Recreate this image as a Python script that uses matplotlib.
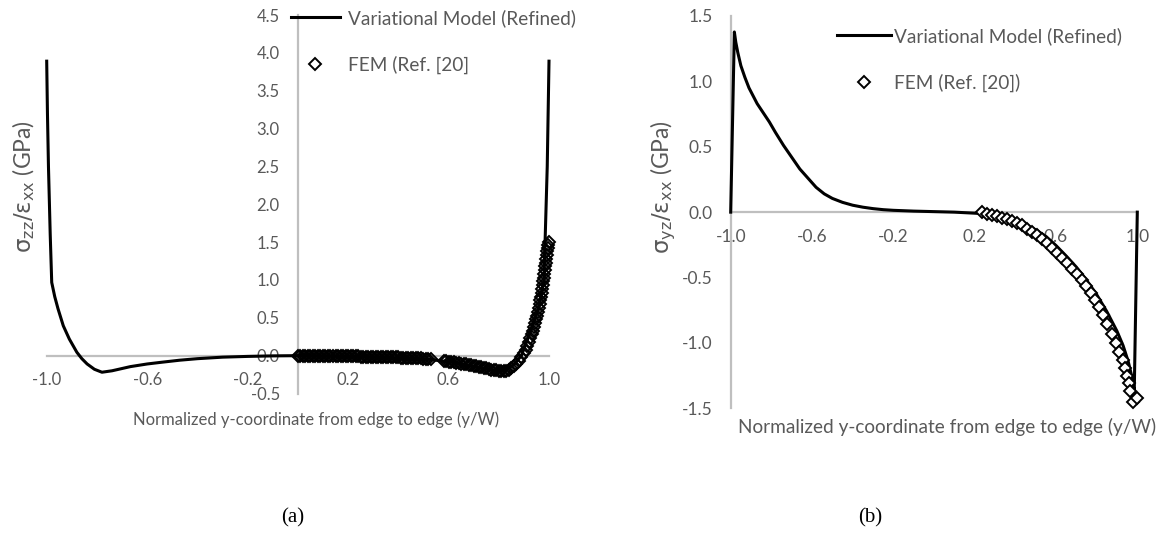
import matplotlib
matplotlib.use('Agg')
import matplotlib.pyplot as plt
import numpy as np

plt.rcParams['font.family'] = ['Lato', 'DejaVu Sans']
plt.rcParams['mathtext.fontset'] = 'dejavusans'

TXT = '#595959'
AXC = '#BFBFBF'

# ---------------- data, panel (a): sigma_zz / eps_xx ----------------
a_model_x = [-1.0, -0.997, -0.993, -0.986, -0.980, -0.968, -0.955, -0.934, -0.910, -0.880,
             -0.860, -0.839, -0.810, -0.780, -0.740, -0.700, -0.667, -0.600, -0.542, -0.470,
             -0.400, -0.300, -0.200, -0.100, 0.0, 0.20, 0.40, 0.53, 0.56, 0.60, 0.70, 0.78,
             0.82, 0.86, 0.89, 0.93, 0.96, 0.98, 0.993, 1.0]
a_model_y = [3.89, 3.20, 2.50, 1.60, 0.967, 0.78, 0.62, 0.395, 0.22, 0.045,
             -0.04, -0.11, -0.18, -0.219, -0.20, -0.17, -0.145, -0.11, -0.087, -0.06,
             -0.04, -0.02, -0.01, -0.003, 0.0, -0.01, -0.03, -0.05, -0.065, -0.08, -0.14, -0.19,
             -0.20, -0.12, 0.0, 0.35, 0.65, 1.0, 2.5, 3.89]

a_fem_x = [0.00, 0.01, 0.02, 0.03, 0.04, 0.05, 0.06, 0.07, 0.08, 0.09,
           0.10, 0.11, 0.12, 0.13, 0.14, 0.15, 0.16, 0.17, 0.18, 0.19,
           0.20, 0.21, 0.22, 0.23, 0.24, 0.25, 0.26, 0.27, 0.28, 0.29,
           0.30, 0.31, 0.32, 0.33, 0.34, 0.35, 0.36, 0.37, 0.38, 0.39,
           0.40, 0.41, 0.42, 0.43, 0.44, 0.45, 0.46, 0.47, 0.48, 0.49,
           0.50, 0.51, 0.52, 0.53,
           0.58, 0.59, 0.60, 0.61, 0.62, 0.63, 0.64, 0.65, 0.66, 0.67,
           0.68, 0.69, 0.70, 0.71, 0.72, 0.73, 0.74, 0.75, 0.76, 0.77,
           0.78, 0.79, 0.80, 0.81, 0.82, 0.83, 0.84, 0.85, 0.86, 0.87,
           0.88, 0.89,
           0.900, 0.907, 0.914, 0.920, 0.926, 0.931, 0.936, 0.941, 0.945, 0.949,
           0.953, 0.957, 0.960, 0.963, 0.966, 0.969, 0.972, 0.974, 0.976, 0.978,
           0.980, 0.982, 0.984, 0.986, 0.988, 0.990, 0.992, 0.994, 0.996, 0.998, 1.000]
a_fem_y = [0.000, 0.000, 0.000, -0.001, -0.001, -0.002, -0.002, -0.003, -0.003, -0.004,
           -0.004, -0.005, -0.005, -0.006, -0.006, -0.007, -0.007, -0.008, -0.008, -0.009,
           -0.009, -0.010, -0.010, -0.011, -0.011, -0.012, -0.012, -0.013, -0.014, -0.014,
           -0.015, -0.016, -0.016, -0.017, -0.018, -0.019, -0.020, -0.021, -0.022, -0.023,
           -0.024, -0.025, -0.026, -0.027, -0.029, -0.030, -0.031, -0.033, -0.034, -0.036,
           -0.038, -0.040, -0.042, -0.045,
           -0.070, -0.074, -0.078, -0.083, -0.088, -0.093, -0.098, -0.104, -0.110, -0.116,
           -0.122, -0.128, -0.135, -0.141, -0.148, -0.155, -0.162, -0.169, -0.176, -0.183,
           -0.190, -0.196, -0.201, -0.204, -0.204, -0.198, -0.185, -0.165, -0.138, -0.105,
           -0.065, -0.020,
           0.03, 0.08, 0.13, 0.18, 0.23, 0.28, 0.33, 0.38, 0.43, 0.48,
           0.53, 0.58, 0.63, 0.68, 0.73, 0.78, 0.83, 0.88, 0.93, 0.98,
           1.03, 1.08, 1.13, 1.18, 1.23, 1.28, 1.33, 1.38, 1.42, 1.46, 1.50]

# ---------------- data, panel (b): sigma_yz / eps_xx ----------------
b_model_x = [-1.0, -0.982, -0.975, -0.965, -0.950, -0.930, -0.910, -0.890, -0.870, -0.840,
             -0.810, -0.780, -0.740, -0.700, -0.660, -0.620, -0.580, -0.540, -0.500, -0.450,
             -0.400, -0.350, -0.300, -0.250, -0.200, -0.100, 0.100, 0.226, 0.300, 0.400,
             0.450, 0.500, 0.550, 0.600, 0.650, 0.700, 0.750, 0.800, 0.850, 0.900,
             0.930, 0.955, 0.972, 0.985, 1.0]
b_model_y = [0.0, 1.378, 1.30, 1.22, 1.12, 1.03, 0.95, 0.89, 0.83, 0.76,
             0.69, 0.61, 0.51, 0.42, 0.33, 0.26, 0.19, 0.14, 0.105, 0.075,
             0.053, 0.038, 0.027, 0.019, 0.014, 0.008, 0.0, -0.010, -0.025, -0.065,
             -0.095, -0.135, -0.185, -0.255, -0.335, -0.420, -0.520, -0.630, -0.760, -0.910,
             -1.020, -1.140, -1.250, -1.370, 0.0]

b_fem_x = [0.235, 0.259, 0.284, 0.308, 0.333, 0.358, 0.382, 0.407, 0.431, 0.456,
           0.481, 0.505, 0.530, 0.554, 0.579, 0.604, 0.628, 0.653, 0.677, 0.702,
           0.727, 0.748, 0.771, 0.792, 0.813, 0.833, 0.852, 0.874, 0.895, 0.912,
           0.928, 0.939, 0.951, 0.959, 0.964, 0.977, 1.000]
b_fem_y = [0.000, -0.013, -0.025, -0.033, -0.043, -0.056, -0.069, -0.084, -0.102, -0.127,
           -0.152, -0.178, -0.203, -0.236, -0.272, -0.310, -0.348, -0.389, -0.432, -0.475,
           -0.521, -0.567, -0.618, -0.668, -0.725, -0.790, -0.857, -0.933, -1.004, -1.068,
           -1.131, -1.195, -1.253, -1.309, -1.365, -1.449, -1.423]

x_ticks = [-1.0, -0.6, -0.2, 0.2, 0.6, 1.0]
a_yticks = [-0.5, 0.0, 0.5, 1.0, 1.5, 2.0, 2.5, 3.0, 3.5, 4.0, 4.5]
b_yticks = [-1.5, -1.0, -0.5, 0.0, 0.5, 1.0, 1.5]

W, H = 1159, 537
fig = plt.figure(figsize=(W / 100, H / 100), dpi=100)


def px_axes(x0, x1, ytop, ybot):
    return fig.add_axes([x0 / W, 1 - ybot / H, (x1 - x0) / W, (ybot - ytop) / H])


def style(ax, yticks, yspine_x, tsize):
    ax.set_xlim(-1, 1)
    ax.set_ylim(yticks[0], yticks[-1])
    for s in ['top', 'right']:
        ax.spines[s].set_visible(False)
    ax.spines['left'].set_position(('data', yspine_x))
    ax.spines['bottom'].set_position(('data', 0))
    for s in ['left', 'bottom']:
        ax.spines[s].set_color(AXC)
        ax.spines[s].set_linewidth(1.6)
    ax.set_xticks(x_ticks)
    ax.set_xticklabels(['%.1f' % v for v in x_ticks])
    ax.set_yticks(yticks)
    ax.set_yticklabels(['%.1f' % v for v in yticks])
    ax.tick_params(axis='both', length=0, labelsize=tsize, labelcolor=TXT)
    ax.tick_params(axis='x', pad=12)
    ax.tick_params(axis='y', pad=13)
    ax.patch.set_alpha(0)


line_style = dict(color='black', linewidth=2.2, clip_on=False, zorder=3)

# panel (a)
ax1 = px_axes(46.7, 549, 15, 393.5)
style(ax1, a_yticks, 0, 12)
ax1.plot(a_model_x, a_model_y, label='Variational Model (Refined)', **line_style)
ax1.plot(a_fem_x, a_fem_y, label='FEM (Ref. [20]', linestyle='none', marker='D', markersize=6.2,
         markerfacecolor='none', markeredgecolor='black', markeredgewidth=1.4,
         clip_on=False, zorder=3)
ax1.text(0.536, -0.07, 'Normalized y-coordinate from edge to edge (y/W)', transform=ax1.transAxes,
         ha='center', va='center', fontsize=12, color=TXT)
ax1.text(-0.045, 0.546, r'$\mathrm{\sigma_{zz}/\varepsilon_{xx}}$ (GPa)', transform=ax1.transAxes,
         ha='center', va='center', rotation=90, fontsize=16.5, color=TXT)
ax1.legend(loc='upper left', bbox_to_anchor=(291 / W, 1 - 9 / H), bbox_transform=fig.transFigure,
           frameon=False, fontsize=13.7, labelcolor=TXT, handlelength=2.55, handletextpad=0.42,
           labelspacing=1.5, numpoints=1, borderaxespad=0, borderpad=0)

# panel (b)
ax2 = px_axes(730.7, 1137.3, 16, 408.3)
style(ax2, b_yticks, -1, 12.5)
ax2.plot(b_model_x, b_model_y, label='Variational Model (Refined)', **line_style)
ax2.plot(b_fem_x, b_fem_y, label='FEM (Ref. [20])', linestyle='none', marker='D', markersize=6.2,
         markerfacecolor='white', markeredgecolor='black', markeredgewidth=1.4,
         clip_on=False, zorder=3)
ax2.text(0.532, -0.047, 'Normalized y-coordinate from edge to edge (y/W)', transform=ax2.transAxes,
         ha='center', va='center', fontsize=13.7, color=TXT)
ax2.text(-0.165, 0.564, r'$\mathrm{\sigma_{yz}/\varepsilon_{xx}}$ (GPa)', transform=ax2.transAxes,
         ha='center', va='center', rotation=90, fontsize=16.5, color=TXT)
ax2.legend(loc='upper left', bbox_to_anchor=(837 / W, 1 - 27 / H), bbox_transform=fig.transFigure,
           frameon=False, fontsize=13.7, labelcolor=TXT, handlelength=2.85, handletextpad=0.17,
           labelspacing=1.5, numpoints=1, borderaxespad=0, borderpad=0)

# captions
fig.text(293 / W, 1 - 518 / H, '(a)', ha='center', va='center', fontsize=15,
         family='Liberation Serif', color='black')
fig.text(870 / W, 1 - 518 / H, '(b)', ha='center', va='center', fontsize=15,
         family='Liberation Serif', color='black')

fig.savefig('out.png', dpi=100, facecolor='white')
